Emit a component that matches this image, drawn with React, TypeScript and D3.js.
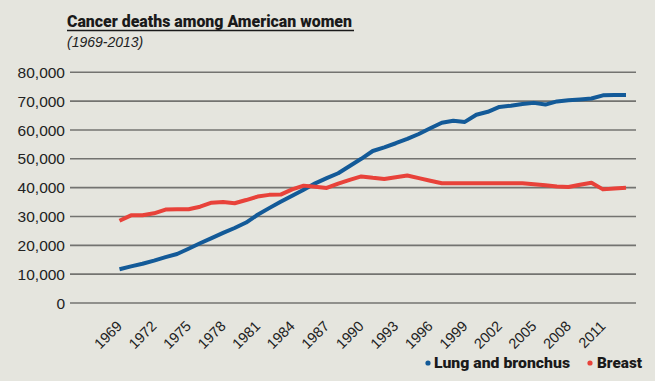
import React from "react";
import * as d3 from "d3";

const years: number[] = d3.range(1969, 2014);
const lungValues: number[] = [
  11700, 12700, 13600, 14700, 15900, 17000, 18800, 20700, 22500, 24300,
  26000, 27900, 30600, 32900, 35100, 37200, 39300, 41500, 43300, 45000,
  47500, 50000, 52700, 54000, 55400, 56900, 58600, 60600, 62500, 63200,
  62800, 65300, 66300, 68000, 68400, 69000, 69400, 68800, 69900, 70300,
  70600, 70900, 72000, 72100, 72100,
];
const breastValues: number[] = [
  28500, 30400, 30400, 31100, 32400, 32500, 32500, 33400, 34800, 35000,
  34600, 35700, 36900, 37500, 37600, 39400, 40700, 40300, 39900, 41400,
  42700, 43900, 43400, 43000, 43600, 44200, 43300, 42400, 41500, 41500,
  41500, 41500, 41500, 41500, 41500, 41500, 41200, 40800, 40400, 40200,
  41000, 41700, 39400, 39700, 40000,
];
const yTicks: number[] = [0, 10000, 20000, 30000, 40000, 50000, 60000, 70000, 80000];
const xTickLabels: number[] = d3.range(1969, 2012, 3);
const seriesNames: string[] = ["Lung and bronchus", "Breast"];
const seriesColors: string[] = ["#135a98", "#e8423a"];

const W = 655;
const H = 381;

export default function App() {
  const x = d3.scaleLinear().domain([1969, 2013]).range([119.5, 626]);
  const y = d3.scaleLinear().domain([0, 80000]).range([303, 72.3]);
  const fmt = d3.format(",");
  const line = d3
    .line<number>()
    .x((_, i) => x(years[i]))
    .y((d) => y(d));
  const series = [lungValues, breastValues];

  return (
    <svg
      width={W}
      height={H}
      style={{ position: "absolute", left: 0, top: 0, background: "#e5e5de" }}
    >
      <rect x={0} y={0} width={W} height={H} fill="#e5e5de" />
      <text
        x={67}
        y={27}
        fontFamily="Roboto, sans-serif"
        fontWeight={900}
        fontSize={16}
        fill="#1a1a1a"
        textLength={285}
        lengthAdjust="spacingAndGlyphs"
      >
        Cancer deaths among American women
      </text>
      <line x1={67} x2={354} y1={30.5} y2={30.5} stroke="#1a1a1a" strokeWidth={1.4} />
      <text
        x={67}
        y={47}
        fontFamily="'Liberation Sans', Arial, sans-serif"
        fontStyle="italic"
        fontSize={14}
        fill="#222"
      >
        (1969-2013)
      </text>

      {yTicks.map((t) => (
        <g key={t}>
          <line x1={70} x2={636} y1={y(t)} y2={y(t)} stroke="#737370" strokeWidth={1.6} />
          <text
            x={65}
            y={y(t)}
            dy="0.36em"
            textAnchor="end"
            fontFamily="'Liberation Sans', Arial, sans-serif"
            fontSize={15.5}
            fill="#222"
          >
            {fmt(t)}
          </text>
        </g>
      ))}

      {xTickLabels.map((t) => (
        <text
          key={t}
          transform={`translate(${x(t) + 3.5},${327}) rotate(-45)`}
          textAnchor="end"
          fontFamily="'Liberation Sans', Arial, sans-serif"
          fontSize={14.5}
          fill="#222"
        >
          {t}
        </text>
      ))}

      {series.map((s, i) => (
        <path
          key={i}
          d={line(s) || ""}
          fill="none"
          stroke={seriesColors[i]}
          strokeWidth={4}
          strokeLinejoin="round"
        />
      ))}

      <circle cx={428} cy={363} r={2.6} fill={seriesColors[0]} />
      <text
        x={434}
        y={368}
        fontFamily="Roboto, sans-serif"
        fontWeight={900}
        fontSize={14}
        fill="#1a1a1a"
        textLength={136}
        lengthAdjust="spacingAndGlyphs"
      >
        {seriesNames[0]}
      </text>
      <circle cx={590} cy={363} r={2.6} fill={seriesColors[1]} />
      <text
        x={597}
        y={368}
        fontFamily="Roboto, sans-serif"
        fontWeight={900}
        fontSize={14}
        fill="#1a1a1a"
        textLength={45}
        lengthAdjust="spacingAndGlyphs"
      >
        {seriesNames[1]}
      </text>
    </svg>
  );
}
